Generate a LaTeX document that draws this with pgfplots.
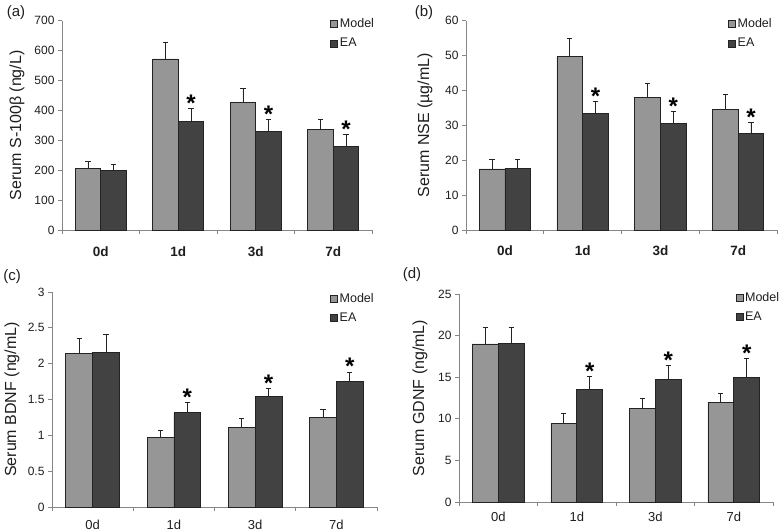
\documentclass[border=0pt]{standalone}
\usepackage{fontspec}
\setmainfont{Liberation Sans}
\usepackage{pgfplots}
\pgfplotsset{compat=1.18}
\definecolor{modelc}{RGB}{150,150,150}
\definecolor{eac}{RGB}{66,66,66}
\definecolor{edgec}{RGB}{35,35,35}
\definecolor{axisc}{RGB}{134,134,134}
\definecolor{txtc}{RGB}{30,30,30}
\pgfplotsset{
 panel/.style={
  scale only axis,
  axis x line=bottom, axis y line=left,
  axis line style={-, draw=axisc, line width=0.9pt},
  tick style={draw=axisc, line width=0.9pt},
  tick align=outside,
  major tick length=4pt,
  xmin=-0.5, xmax=3.5, ymin=0,
  xtick={-0.5,0.5,1.5,2.5,3.5}, xticklabels={},
  extra x ticks={0,1,2,3}, extra x tick labels={0d,1d,3d,7d},
  extra x tick style={major tick length=0pt},
  /pgf/number format/assume math mode=true,
  yticklabel style={font=\fontsize{12}{14}\selectfont, text=txtc},
  ylabel style={font=\fontsize{16}{18}\selectfont, text=txtc, anchor=center},
  legend style={draw=none, fill=none, font=\fontsize{12.5}{14}\selectfont, text=txtc, anchor=north west, legend cell align=left, row sep=5pt, inner sep=0pt},
  clip=false,
 },
 sqleg/.style={legend image code/.code={\draw[##1,/tikz/.cd, draw=edgec, line width=0.6pt] (0pt,-3.5pt) rectangle (7pt,3.5pt);}},
 ebar/.style={error bars/.cd, y dir=plus, y explicit, error bar style={draw=edgec, line width=0.8pt}, error mark options={rotate=90, mark size=2.6pt, line width=0.8pt, draw=edgec}},
 modelbar/.style={ybar, bar width=0.33, bar shift=0pt, fill=modelc, draw=edgec, line width=0.7pt, sqleg, ebar},
 eabar/.style={ybar, bar width=0.33, bar shift=0pt, fill=eac, draw=edgec, line width=0.7pt, sqleg, ebar},
 star/.style={forget plot, only marks, mark=none, nodes near coords={\textbf{*}}, every node near coord/.append style={anchor=base, inner sep=0pt, font=\fontsize{24}{24}\selectfont\bfseries, text=black, yshift=-3pt}},
}
\begin{document}
\begin{tikzpicture}
\useasboundingbox (0,0) rectangle (781pt,532pt);
% (a)
\begin{axis}[panel, at={(62pt,302pt)}, anchor=south west, width=310pt, height=209.3pt,
  ymax=700, ytick={0,100,...,700},
  ylabel={Serum S-100β (ng/L)}, ylabel style={at={(axis description cs:-0.145,0.5)}},
  xticklabel style={font=\fontsize{13.5}{15}\selectfont\bfseries, text=txtc, yshift=-13pt},
  legend style={at={(axis description cs:0.865,1.02)}}]
\addplot[modelbar] coordinates {(-0.165,206) +- (0,22) (0.835,572) +- (0,54) (1.835,426) +- (0,47) (2.835,337) +- (0,33)};
\addlegendentry{Model}
\addplot[eabar] coordinates {(0.165,200) +- (0,20) (1.165,362) +- (0,45) (2.165,329) +- (0,42) (3.165,279) +- (0,40)};
\addlegendentry{EA}
\addplot[star] coordinates {(1.165,407) (2.165,371) (3.165,319)};
\end{axis}
% (b)
\begin{axis}[panel, at={(466pt,302pt)}, anchor=south west, width=311pt, height=209.3pt,
  ymax=60, ytick={0,10,...,60},
  ylabel={Serum NSE (µg/mL)}, ylabel style={at={(axis description cs:-0.132,0.5)}},
  xticklabel style={font=\fontsize{13.5}{15}\selectfont\bfseries, text=txtc, yshift=-12pt},
  legend style={at={(axis description cs:0.842,1.02)}}]
\addplot[modelbar] coordinates {(-0.165,17.5) +- (0,2.7) (0.835,49.7) +- (0,5.2) (1.835,38.0) +- (0,4.0) (2.835,34.6) +- (0,4.4)};
\addlegendentry{Model}
\addplot[eabar] coordinates {(0.165,17.7) +- (0,2.5) (1.165,33.4) +- (0,3.4) (2.165,30.6) +- (0,3.5) (3.165,27.7) +- (0,3.1)};
\addlegendentry{EA}
\addplot[star] coordinates {(1.165,36.8) (2.165,34.1) (3.165,30.8)};
\end{axis}
% (c)
\begin{axis}[panel, at={(52pt,25pt)}, anchor=south west, width=325pt, height=215pt,
  ymax=3, ytick={0,0.5,...,3},
  ylabel={Serum BDNF (ng/mL)}, ylabel style={at={(axis description cs:-0.123,0.5)}},
  xticklabel style={font=\fontsize{13}{14}\selectfont, text=txtc, yshift=-10pt},
  legend style={at={(axis description cs:0.855,1.005)}}]
\addplot[modelbar] coordinates {(-0.165,2.14) +- (0,0.215) (0.835,0.975) +- (0,0.088) (1.835,1.11) +- (0,0.13) (2.835,1.25) +- (0,0.11)};
\addlegendentry{Model}
\addplot[eabar] coordinates {(0.165,2.155) +- (0,0.25) (1.165,1.315) +- (0,0.145) (2.165,1.54) +- (0,0.12) (3.165,1.75) +- (0,0.135)};
\addlegendentry{EA}
\addplot[star] coordinates {(1.165,1.46) (2.165,1.66) (3.165,1.885)};
\end{axis}
% (d)
\begin{axis}[panel, at={(459pt,30pt)}, anchor=south west, width=314pt, height=208pt,
  ymax=25, ytick={0,5,...,25},
  ylabel={Serum GDNF (ng/mL)}, ylabel style={at={(axis description cs:-0.124,0.5)}},
  xticklabel style={font=\fontsize{13}{14}\selectfont, text=txtc, yshift=-7pt},
  legend style={at={(axis description cs:0.88,1.02)}}]
\addplot[modelbar] coordinates {(-0.165,19.0) +- (0,1.95) (0.835,9.4) +- (0,1.2) (1.835,11.2) +- (0,1.2) (2.835,12.0) +- (0,1.0)};
\addlegendentry{Model}
\addplot[eabar] coordinates {(0.165,19.05) +- (0,1.95) (1.165,13.5) +- (0,1.6) (2.165,14.7) +- (0,1.7) (3.165,15.0) +- (0,2.2)};
\addlegendentry{EA}
\addplot[star] coordinates {(1.165,15.1) (2.165,16.4) (3.165,17.2)};
\end{axis}
\node[font=\fontsize{15}{16}\selectfont, text=txtc] at (16pt,519pt) {(a)};
\node[font=\fontsize{15}{16}\selectfont, text=txtc] at (424pt,519pt) {(b)};
\node[font=\fontsize{15}{16}\selectfont, text=txtc] at (12pt,255pt) {(c)};
\node[font=\fontsize{15}{16}\selectfont, text=txtc] at (412pt,257pt) {(d)};
\end{tikzpicture}
\end{document}
